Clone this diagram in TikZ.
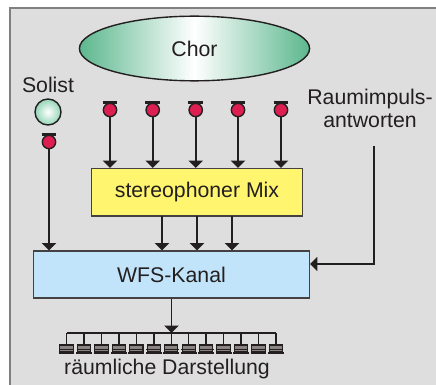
\documentclass[tikz,border=0pt]{standalone}
\usepackage{fontspec}
\setmainfont{Liberation Sans}
\usetikzlibrary{arrows.meta}
\usetikzlibrary{shapes.geometric}
\usetikzlibrary{positioning}
\definecolor{panelgray}{HTML}{DEDEDE}
\definecolor{inkdark}{HTML}{231F20}
\definecolor{chorgreen}{HTML}{5CB78E}
\definecolor{solistgreen}{HTML}{93D5B8}
\definecolor{micred}{HTML}{DC1E50}
\definecolor{mixyellow}{HTML}{FFF56E}
\definecolor{wfsblue}{HTML}{C2E4FA}
\definecolor{spkgray}{HTML}{8A8583}

\begin{document}
\begin{tikzpicture}[
    x=0.02cm, y=-0.02cm,
    mic/.style={circle, draw=inkdark, line width=0.8pt, fill=micred, minimum size=7.6pt, inner sep=0pt},
    block/.style={rectangle, draw=inkdark!85, line width=0.8pt, inner sep=0pt, font=\fontsize{12.1}{14}\selectfont, text=inkdark},
    caption/.style={font=\fontsize{12.1}{13.2}\selectfont, text=inkdark, inner sep=0pt, align=center},
    speaker/.style={rectangle, draw=inkdark, line width=0.6pt, fill=spkgray, minimum width=7.6pt, minimum height=4pt, inner sep=0pt},
    sig/.style={draw=inkdark, line width=1.1pt, -{Triangle[length=4.2pt, width=8pt]}},
    >=stealth
]
\useasboundingbox (0,0) rectangle (436,385);

% --- Panel ---
\draw[draw=gray, line width=0.7pt, fill=panelgray] (10,8) rectangle (440,390);

% --- Sources ---
\node[ellipse, draw=inkdark, line width=0.8pt, minimum width=131pt, minimum height=36.8pt, inner sep=0pt,
      left color=chorgreen, right color=chorgreen, middle color=white] (chor) at (194.5,48.5) {};
\node[caption] (chortext) at (chor.center) {Chor};
\node[caption] (solist) at (48,84.5) {Solist};
\node[circle, draw=inkdark, line width=0.8pt, minimum size=14.8pt, inner sep=0pt,
      inner color=white, outer color=solistgreen] (solistball) at (48,112) {};
\node[caption] (raum) at (370,108.5) {Raumimpuls-\\antworten};

% --- Blocks ---
\node[block, fill=mixyellow, minimum width=120.2pt, minimum height=26.9pt] (mix) at (197,192.3) {stereophoner Mix};
\node[block, fill=wfsblue, minimum width=157pt, minimum height=26.6pt] (wfs) at (171.5,274.5) {WFS-Kanal};

% --- Microphones ---
\node[mic] (solomic) at (49,142) {};
\draw[inkdark, line width=1.7pt] ([xshift=-4.2pt]solomic.north) -- ([xshift=4.2pt]solomic.north);
\draw[sig] (solomic.south) -- (solomic.south |- wfs.north);

\foreach \i/\x in {1/110,2/152.7,3/195.7,4/238,5/281}
{
    \node[mic] (mic\i) at (\x,110) {};
    \draw[inkdark, line width=1.7pt] ([xshift=-4.2pt]mic\i.north) -- ([xshift=4.2pt]mic\i.north);
    \draw[sig] (mic\i.south) -- (mic\i.south |- mix.north);
}

% --- Mix to WFS ---
\foreach \i/\x in {1/162,2/197,3/232}
{
    \coordinate (mixout\i) at (\x,216);
    \draw[sig] (mixout\i) -- (mixout\i |- wfs.north);
}

% --- Room responses ---
\coordinate (raumout) at (374,146);
\coordinate (raumknee) at (374,264);
\coordinate (wfsin) at (310,264);
\draw[sig, line width=0.9pt] (raumout) -- (raumknee) -- (wfsin);

% --- Speaker row ---
\coordinate (busl) at (66.5,333);
\coordinate (busr) at (276,333);
\foreach \i in {1,...,13}
{
    \pgfmathsetmacro\spkx{66.5+(\i-1)*17.46}
    \node[speaker] (spk\i) at (\spkx,348.5) {};
    \draw[inkdark, line width=1.1pt] ([xshift=-4.5pt]spk\i.south) -- ([xshift=4.5pt]spk\i.south);
    \draw[inkdark, line width=0.6pt] ([xshift=-4.2pt, yshift=2pt]spk\i.south) -- ([xshift=4.2pt, yshift=2pt]spk\i.south);
    \draw[inkdark, line width=0.8pt] (spk\i.north) -- (spk\i.north |- busl);
}
\draw[inkdark, line width=0.8pt] (busl) -- (busr);
\draw[sig] (wfs.south) -- (wfs.south |- busl);

\node[caption] (darst) at (167,369) {räumliche Darstellung};

\end{tikzpicture}
\end{document}
